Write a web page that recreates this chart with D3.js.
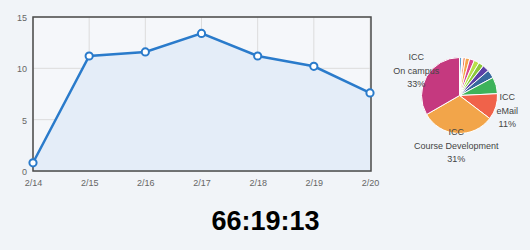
<!DOCTYPE html>
<html><head><meta charset="utf-8">
<script src="https://cdn.jsdelivr.net/npm/d3@7"></script>
<style>
html,body{margin:0;padding:0;background:#f1f4f8;}
svg{display:block;font-family:"Liberation Sans",Arial,sans-serif;}
</style></head><body>
<svg id="c" width="530" height="250"></svg>
<script>
const dates = ["2/14","2/15","2/16","2/17","2/18","2/19","2/20"];
const values = [0.8, 11.2, 11.6, 13.4, 11.2, 10.2, 7.6];
const yTicks = [0, 5, 10, 15];

const pieNames = ["a","b","c","d","e","f","g","h","i","j","ICC\neMail","ICC\nCourse Development","ICC\nOn campus"];
const pieValues = [1, 0.5, 1, 1.8, 2, 2.2, 2.2, 2.8, 3.5, 7, 11, 31, 33];
const pieColors = ["#5a9fd4","#f4f4f4","#f07a50","#f5a54a","#d9488f","#b8e04a","#8cc83c","#5b3fa6","#37689e","#3db35a","#f0624a","#f2a54a","#c5397f"];
const timerText = "66:19:13";

const svg = d3.select("#c");
const m = {l:33, r:370, t:17, b:171};
const x = d3.scalePoint().domain(dates).range([m.l, m.r]);
const y = d3.scaleLinear().domain([0,15]).range([m.b, m.t]);

svg.append("rect").attr("x",m.l).attr("y",m.t).attr("width",m.r-m.l+1).attr("height",m.b-m.t).attr("fill","#f5f7fa");

// grid
svg.append("g").selectAll("line").data(dates).join("line")
  .attr("x1",d=>x(d)).attr("x2",d=>x(d)).attr("y1",m.t).attr("y2",m.b)
  .attr("stroke","#dcdcdc").attr("stroke-width",1);
svg.append("g").selectAll("line").data(yTicks).join("line")
  .attr("x1",m.l).attr("x2",m.r+1).attr("y1",d=>y(d)).attr("y2",d=>y(d))
  .attr("stroke","#dcdcdc").attr("stroke-width",1);

// area + line
const area = d3.area().x(d=>x(d.d)).y0(y(0)).y1(d=>y(d.v));
const line = d3.line().x(d=>x(d.d)).y(d=>y(d.v));
const pts = dates.map((d,i)=>({d, v:values[i]}));
svg.append("path").datum(pts).attr("d",area).attr("fill","#e4edf8");

// frame
svg.append("rect").attr("x",m.l).attr("y",m.t).attr("width",m.r-m.l+1).attr("height",m.b-m.t)
  .attr("fill","none").attr("stroke","#4a4a4a").attr("stroke-width",1.5);

svg.append("path").datum(pts).attr("d",line).attr("fill","none").attr("stroke","#2a7bcb").attr("stroke-width",2.5);
svg.append("g").selectAll("circle").data(pts).join("circle")
  .attr("cx",d=>x(d.d)).attr("cy",d=>y(d.v)).attr("r",3.6)
  .attr("fill","#fff").attr("stroke","#2a7bcb").attr("stroke-width",2);

// axes
const yAxis = d3.axisLeft(y).tickValues(yTicks).tickSize(0).tickPadding(6);
const gy = svg.append("g").attr("transform",`translate(${m.l},0)`).call(yAxis);
gy.select(".domain").remove();
gy.selectAll("text").attr("fill","#666").attr("font-size",9).attr("dy","0.4em");
const xAxis = d3.axisBottom(x).tickSize(0).tickPadding(9);
const gx = svg.append("g").attr("transform",`translate(0,${m.b})`).call(xAxis);
gx.select(".domain").remove();
gx.selectAll("text").attr("fill","#666").attr("font-size",9);

// pie
const cx = 459.5, cy = 95.5, R = 38;
const total = d3.sum(pieValues);
const pie = d3.pie().sort(null).value(d=>d.v);
const pd = pie(pieNames.map((n,i)=>({n, v:pieValues[i], c:pieColors[i]})));
const arc = d3.arc().innerRadius(0).outerRadius(R);
const g = svg.append("g").attr("transform",`translate(${cx},${cy})`);
g.selectAll("path").data(pd).join("path").attr("d",arc)
  .attr("fill",d=>d.data.c).attr("stroke","#fff").attr("stroke-width",1);
const lab = d3.arc().innerRadius(50).outerRadius(50);
pd.filter(d=>d.data.v/total>=0.1).forEach(d=>{
  const [lx,ly] = lab.centroid(d);
  const lines = d.data.n.split("\n").concat([Math.round(d.data.v/total*100)+"%"]);
  const t = g.append("text").attr("text-anchor","middle").attr("font-size",9).attr("fill","#444");
  lines.forEach((s,i)=>{
    t.append("tspan").attr("x",lx).attr("y",ly+(i-1)*13.3+3.2).text(s);
  });
});

svg.append("text").attr("x",265.5).attr("y",229.5).attr("text-anchor","middle")
  .attr("font-size",27).attr("font-weight","bold").attr("fill","#000").text(timerText);
</script>
</body></html>
